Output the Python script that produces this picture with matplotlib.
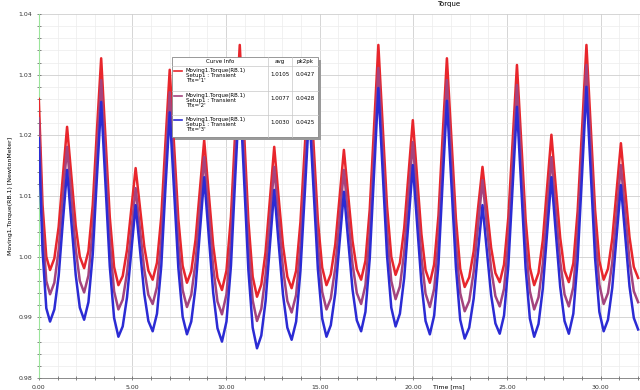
import matplotlib
matplotlib.use("Agg")
import matplotlib.pyplot as plt
from matplotlib.ticker import MultipleLocator

# time samples [ms], shared by the three traces
t = [0.00, 0.20, 0.40, 0.60,
     0.83, 1.06, 1.28, 1.51, 1.74, 1.97, 2.19, 2.42,
     2.65, 2.88, 3.10, 3.33, 3.56, 3.79, 4.02, 4.25,
     4.48, 4.71, 4.94, 5.17, 5.40, 5.63, 5.85, 6.08,
     6.31, 6.54, 6.76, 6.99, 7.22, 7.45, 7.68, 7.91,
     8.14, 8.37, 8.60, 8.83, 9.07, 9.31, 9.54, 9.78,
     10.02, 10.26, 10.49, 10.73, 10.96, 11.19, 11.42, 11.65,
     11.88, 12.11, 12.34, 12.57, 12.80, 13.04, 13.27, 13.50,
     13.74, 13.97, 14.21, 14.44, 14.67, 14.90, 15.13, 15.36,
     15.59, 15.83, 16.06, 16.29, 16.52, 16.75, 16.98, 17.21,
     17.44, 17.67, 17.90, 18.13, 18.36, 18.59, 18.82, 19.05,
     19.28, 19.51, 19.74, 19.97, 20.20, 20.43, 20.65, 20.88,
     21.11, 21.34, 21.56, 21.79, 22.03, 22.27, 22.50, 22.74,
     22.98, 23.22, 23.45, 23.69, 23.92, 24.15, 24.38, 24.61,
     24.84, 25.07, 25.30, 25.53, 25.76, 25.99, 26.22, 26.45,
     26.68, 26.91, 27.14, 27.37, 27.60, 27.84, 28.07, 28.30,
     28.54, 28.77, 29.01, 29.24, 29.47, 29.70, 29.93, 30.16,
     30.39, 30.62, 30.85, 31.08, 31.31, 31.54, 31.77, 32.00]

torque_1 = [1.0260, 1.0085, 1.0000, 0.9978,
            0.9997, 1.0049, 1.0131, 1.0214, 1.0132, 1.0051, 1.0000, 0.9981,
            1.0009, 1.0085, 1.0206, 1.0327, 1.0196, 1.0065, 0.9983, 0.9953,
            0.9968, 1.0011, 1.0078, 1.0146, 1.0082, 1.0017, 0.9977, 0.9962,
            0.9990, 1.0066, 1.0187, 1.0308, 1.0185, 1.0062, 0.9985, 0.9957,
            0.9976, 1.0028, 1.0110, 1.0192, 1.0106, 1.0019, 0.9965, 0.9945,
            0.9977, 1.0066, 1.0208, 1.0349, 1.0204, 1.0059, 0.9967, 0.9934,
            0.9954, 1.0008, 1.0095, 1.0181, 1.0099, 1.0018, 0.9967, 0.9948,
            0.9977, 1.0057, 1.0184, 1.0311, 1.0186, 1.0060, 0.9982, 0.9953,
            0.9971, 1.0020, 1.0098, 1.0176, 1.0101, 1.0026, 0.9979, 0.9962,
            0.9993, 1.0078, 1.0214, 1.0349, 1.0216, 1.0084, 1.0000, 0.9970,
            0.9990, 1.0047, 1.0136, 1.0225, 1.0131, 1.0037, 0.9978, 0.9957,
            0.9987, 1.0068, 1.0198, 1.0327, 1.0195, 1.0063, 0.9980, 0.9950,
            0.9966, 1.0009, 1.0079, 1.0148, 1.0082, 1.0015, 0.9973, 0.9958,
            0.9987, 1.0065, 1.0191, 1.0316, 1.0189, 1.0062, 0.9982, 0.9953,
            0.9973, 1.0027, 1.0114, 1.0201, 1.0116, 1.0031, 0.9977, 0.9958,
            0.9989, 1.0075, 1.0212, 1.0349, 1.0214, 1.0078, 0.9993, 0.9962,
            0.9980, 1.0030, 1.0108, 1.0187, 1.0109, 1.0032, 0.9983, 0.9965]

torque_2 = [1.0228, 1.0050, 0.9960, 0.9938,
            0.9957, 1.0011, 1.0096, 1.0181, 1.0097, 1.0013, 0.9960, 0.9941,
            0.9969, 1.0046, 1.0169, 1.0291, 1.0159, 1.0026, 0.9943, 0.9913,
            0.9929, 0.9973, 1.0043, 1.0113, 1.0046, 0.9979, 0.9937, 0.9922,
            0.9950, 1.0027, 1.0149, 1.0271, 1.0147, 1.0023, 0.9945, 0.9917,
            0.9937, 0.9991, 1.0078, 1.0164, 1.0073, 0.9983, 0.9926, 0.9905,
            0.9938, 1.0027, 1.0170, 1.0313, 1.0166, 1.0020, 0.9928, 0.9894,
            0.9914, 0.9970, 1.0059, 1.0148, 1.0064, 0.9980, 0.9927, 0.9908,
            0.9937, 1.0018, 1.0147, 1.0275, 1.0148, 1.0022, 0.9942, 0.9913,
            0.9931, 0.9982, 1.0063, 1.0143, 1.0066, 0.9988, 0.9940, 0.9922,
            0.9953, 1.0039, 1.0175, 1.0311, 1.0178, 1.0044, 0.9960, 0.9930,
            0.9951, 1.0008, 1.0098, 1.0189, 1.0094, 0.9999, 0.9939, 0.9917,
            0.9947, 1.0029, 1.0160, 1.0291, 1.0158, 1.0024, 0.9940, 0.9910,
            0.9927, 0.9975, 1.0050, 1.0126, 1.0053, 0.9980, 0.9935, 0.9918,
            0.9947, 1.0028, 1.0155, 1.0283, 1.0154, 1.0024, 0.9943, 0.9913,
            0.9933, 0.9988, 1.0076, 1.0164, 1.0078, 0.9992, 0.9938, 0.9918,
            0.9950, 1.0037, 1.0177, 1.0316, 1.0178, 1.0040, 0.9954, 0.9922,
            0.9940, 0.9991, 1.0071, 1.0151, 1.0072, 0.9993, 0.9943, 0.9925]

torque_3 = [1.0195, 1.0010, 0.9915, 0.9893,
            0.9913, 0.9968, 1.0056, 1.0143, 1.0057, 0.9970, 0.9916, 0.9896,
            0.9925, 1.0004, 1.0129, 1.0255, 1.0120, 0.9984, 0.9899, 0.9868,
            0.9885, 0.9933, 1.0009, 1.0085, 1.0012, 0.9939, 0.9894, 0.9877,
            0.9906, 0.9985, 1.0112, 1.0238, 1.0110, 0.9982, 0.9901, 0.9872,
            0.9893, 0.9950, 1.0040, 1.0131, 1.0036, 0.9941, 0.9882, 0.9860,
            0.9893, 0.9985, 1.0132, 1.0278, 1.0128, 0.9978, 0.9883, 0.9849,
            0.9870, 0.9927, 1.0019, 1.0110, 1.0024, 0.9937, 0.9883, 0.9863,
            0.9893, 0.9977, 1.0109, 1.0242, 1.0111, 0.9980, 0.9898, 0.9868,
            0.9887, 0.9940, 1.0023, 1.0107, 1.0027, 0.9946, 0.9895, 0.9877,
            0.9909, 0.9997, 1.0138, 1.0278, 1.0140, 1.0003, 0.9916, 0.9885,
            0.9906, 0.9965, 1.0058, 1.0151, 1.0053, 0.9956, 0.9894, 0.9872,
            0.9903, 0.9988, 1.0122, 1.0257, 1.0120, 0.9983, 0.9896, 0.9865,
            0.9883, 0.9931, 1.0008, 1.0085, 1.0011, 0.9937, 0.9890, 0.9873,
            0.9903, 0.9985, 1.0116, 1.0247, 1.0114, 0.9982, 0.9898, 0.9868,
            0.9889, 0.9947, 1.0039, 1.0131, 1.0041, 0.9950, 0.9894, 0.9873,
            0.9906, 0.9995, 1.0138, 1.0280, 1.0139, 0.9998, 0.9909, 0.9877,
            0.9896, 0.9949, 1.0034, 1.0118, 1.0035, 0.9951, 0.9899, 0.9880]

curve_names = ["Moving1.Torque(RB.1)\nSetup1 : Transient\nTfx='1'",
               "Moving1.Torque(RB.1)\nSetup1 : Transient\nTfx='2'",
               "Moving1.Torque(RB.1)\nSetup1 : Transient\nTfx='3'"]
avg_vals = ["1.0105", "1.0077", "1.0030"]
pk2pk_vals = ["0.0427", "0.0428", "0.0425"]
colors = ["#e8262c", "#a4447e", "#2b2bd4"]

fig = plt.figure(figsize=(6.4, 3.9), dpi=100)
ax = fig.add_axes([38.8 / 640, 12 / 390, 1 - 38.8 / 640, (378 - 14) / 390])

for y, c in zip([torque_1, torque_2, torque_3], colors):
    ax.plot(t, y, color=c, linewidth=1.8, zorder=3, solid_joinstyle="round")

ax.set_xlim(0, 32.1)
ax.set_ylim(0.98, 1.04)
ax.xaxis.set_major_locator(MultipleLocator(5))
ax.xaxis.set_minor_locator(MultipleLocator(1))
ax.yaxis.set_major_locator(MultipleLocator(0.01))
ax.yaxis.set_minor_locator(MultipleLocator(0.002))
ax.xaxis.set_major_formatter(lambda v, p: "%.2f" % v)
ax.yaxis.set_major_formatter(lambda v, p: "%.2f" % v)
ax.grid(which="major", color="#cfcfcf", linewidth=0.6)
ax.grid(which="minor", color="#ececec", linewidth=0.5)
ax.tick_params(which="both", labelsize=4.5, colors="#555555", length=2.5, width=0.5,
               direction="inout", labelcolor="#333333")
for s in ["top", "right"]:
    ax.spines[s].set_visible(False)
ax.spines["left"].set_color("#9be59b")
ax.spines["left"].set_linewidth(0.8)
ax.spines["bottom"].set_color("#777777")
ax.spines["bottom"].set_linewidth(0.6)

ax.set_ylabel("Moving1.Torque(RB.1) [NewtonMeter]", fontsize=4.5, labelpad=4)
fig.text(449 / 640, 1 - 4 / 390, "Torque", fontsize=5, ha="center", va="center")
fig.text(449 / 640, 0.002, "Time [ms]", fontsize=4.5, ha="center", va="bottom")

# legend table drawn in figure pixels
W, H = 640.0, 390.0
lx0, lx1, ly0, ly1 = 172, 318, 57, 137
col1, col2 = 268, 292
rows = [57, 66, 91, 115, 137]

def fx(x):
    return x / W

def fy(y):
    return 1 - y / H

fig.patches.append(plt.Rectangle((fx(lx0 + 3), fy(ly1 + 3)), (lx1 - lx0) / W, (ly1 - ly0) / H,
                                 transform=fig.transFigure, facecolor="#9a9a9a", edgecolor="none",
                                 zorder=5))
fig.patches.append(plt.Rectangle((fx(lx0), fy(ly1)), (lx1 - lx0) / W, (ly1 - ly0) / H,
                                 transform=fig.transFigure, facecolor="white", edgecolor="#888888",
                                 linewidth=0.6, zorder=6))
for yy in rows[1:-1]:
    fig.add_artist(plt.Line2D([fx(lx0), fx(lx1)], [fy(yy), fy(yy)], color="#c8c8c8",
                              linewidth=0.5, zorder=7))
for xx in [col1, col2]:
    fig.add_artist(plt.Line2D([fx(xx), fx(xx)], [fy(ly0), fy(ly1)], color="#c8c8c8",
                              linewidth=0.5, zorder=7))
fig.text(fx((lx0 + col1) / 2), fy(61.5), "Curve Info", fontsize=4, ha="center", va="center", zorder=8)
fig.text(fx((col1 + col2) / 2), fy(61.5), "avg", fontsize=4, ha="center", va="center", zorder=8)
fig.text(fx((col2 + lx1) / 2), fy(61.5), "pk2pk", fontsize=4, ha="center", va="center", zorder=8)
for i in range(3):
    ytop = rows[i + 1]
    fig.add_artist(plt.Line2D([fx(174), fx(182)], [fy(ytop + 5), fy(ytop + 5)], color=colors[i],
                              linewidth=1.2, zorder=8))
    fig.text(fx(186), fy(ytop + 2), curve_names[i], fontsize=4, ha="left", va="top",
             linespacing=1.0, zorder=8)
    fig.text(fx((col1 + col2) / 2), fy(ytop + 8), avg_vals[i], fontsize=4, ha="center",
             va="center", zorder=8)
    fig.text(fx((col2 + lx1) / 2), fy(ytop + 8), pk2pk_vals[i], fontsize=4, ha="center",
             va="center", zorder=8)

fig.savefig("out.png", dpi=100)
